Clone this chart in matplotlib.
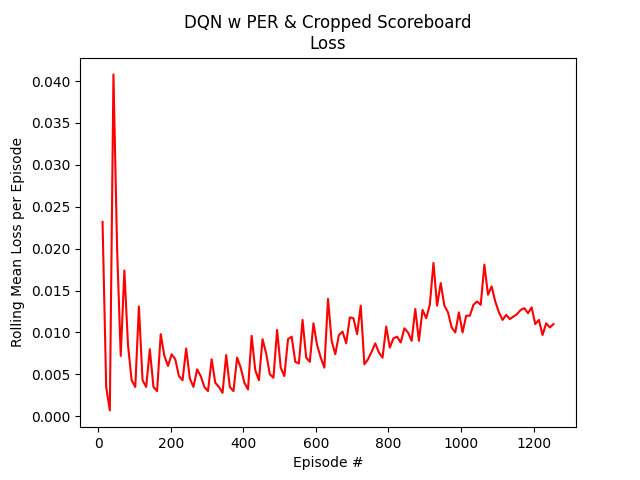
import numpy as np
import matplotlib
matplotlib.use("Agg")
import matplotlib.pyplot as plt

loss = [0.0232,0.0035,0.0007,0.0408,0.020,0.0072,0.0174,0.0085,0.0043,0.0035,
0.0131,0.0043,0.0035,0.0080,0.0035,0.0030,0.0098,0.0072,0.0060,0.0074,
0.0068,0.0048,0.0043,0.0081,0.0045,0.0035,0.0056,0.0048,0.0035,0.0030,
0.0068,0.0040,0.0035,0.0028,0.0073,0.0035,0.0030,0.0070,0.0058,0.0040,
0.0032,0.0096,0.0055,0.0043,0.0092,0.0075,0.0050,0.0046,0.0103,0.0058,
0.0048,0.0092,0.0095,0.0065,0.0063,0.0115,0.0070,0.0065,0.0111,0.0085,
0.0070,0.0058,0.0140,0.0090,0.0074,0.0097,0.0101,0.0087,0.0118,0.0117,
0.0098,0.0132,0.0062,0.0068,0.0077,0.0087,0.0076,0.0070,0.0107,0.0082,
0.0093,0.0095,0.0088,0.0105,0.0100,0.0090,0.0128,0.0090,0.0127,0.0117,
0.0133,0.0183,0.0132,0.0159,0.0132,0.0124,0.0106,0.0100,0.0124,0.0100,
0.0120,0.0120,0.0133,0.0137,0.0133,0.0181,0.0145,0.0155,0.0137,0.0124,
0.0115,0.0121,0.0116,0.0119,0.0122,0.0127,0.0129,0.0123,0.0130,0.0110,
0.0115,0.0097,0.0111,0.0106,0.0110]
episodes = np.linspace(12, 1255, len(loss))

fig, ax = plt.subplots(figsize=(6.4, 4.8), dpi=100)
ax.plot(episodes, loss, color="red")
ax.set_title("DQN w PER & Cropped Scoreboard\nLoss")
ax.set_xlabel("Episode #")
ax.set_ylabel("Rolling Mean Loss per Episode")
fig.savefig("out.png")
